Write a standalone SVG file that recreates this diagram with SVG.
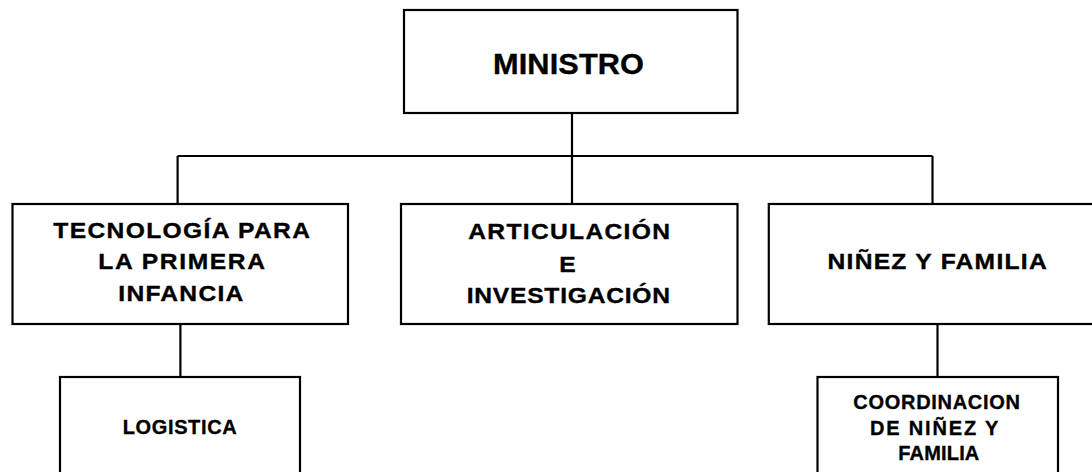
<svg xmlns="http://www.w3.org/2000/svg" width="1092" height="472" viewBox="0 0 1092 472">
<style>
.box{fill:#fff;stroke:#000;stroke-width:2.2}
.ln{stroke:#000;stroke-width:2.2;fill:none}
text{font-family:"Liberation Sans",Arial,sans-serif;font-weight:bold;fill:#000;stroke:#000;stroke-width:0.35}
.t1{font-size:29px}
.t2{font-size:22px}
.t3{font-size:20px}
</style>
<rect width="1092" height="472" fill="#fff"/>
<g id="connectors">
<line class="ln" x1="572" y1="113" x2="572" y2="204"/>
<line class="ln" x1="177.6" y1="156" x2="932.5" y2="156"/>
<line class="ln" x1="177.6" y1="156" x2="177.6" y2="204"/>
<line class="ln" x1="932.5" y1="156" x2="932.5" y2="204"/>
<line class="ln" x1="180.4" y1="324" x2="180.4" y2="377"/>
<line class="ln" x1="937.5" y1="324" x2="937.5" y2="377"/>
</g>
<g id="ministro">
<rect class="box" x="404" y="10" width="333.5" height="103"/>
<text class="t1" transform="matrix(1.06 0 0 1 493 73.5)" textLength="142.5" lengthAdjust="spacing">MINISTRO</text>
</g>
<g id="tecnologia">
<rect class="box" x="12.5" y="204" width="335.5" height="120"/>
<text class="t2" transform="matrix(1.12 0 0 1 53.3 237.7)" textLength="229.2" lengthAdjust="spacing">TECNOLOGÍA PARA</text>
<text class="t2" transform="matrix(1.12 0 0 1 98.3 269.3)" textLength="148.8" lengthAdjust="spacing">LA PRIMERA</text>
<text class="t2" transform="matrix(1.12 0 0 1 118.3 300.5)" textLength="111.6" lengthAdjust="spacing">INFANCIA</text>
</g>
<g id="articulacion">
<rect class="box" x="401" y="204" width="336.5" height="120"/>
<text class="t2" transform="matrix(1.12 0 0 1 468.3 239.3)" textLength="180.1" lengthAdjust="spacing">ARTICULACIÓN</text>
<text class="t2" transform="matrix(1.12 0 0 1 567.5 271.7)" text-anchor="middle">E</text>
<text class="t2" transform="matrix(1.12 0 0 1 466.7 302.7)" textLength="181.5" lengthAdjust="spacing">INVESTIGACIÓN</text>
</g>
<g id="ninez">
<rect class="box" x="768.8" y="204" width="330" height="120"/>
<text class="t2" transform="matrix(1.12 0 0 1 827.5 269)" textLength="195.7" lengthAdjust="spacing">NIÑEZ Y FAMILIA</text>
</g>
<g id="logistica">
<rect class="box" x="60" y="377" width="240" height="110"/>
<text class="t3" x="122.7" y="433.5" textLength="114" lengthAdjust="spacing">LOGISTICA</text>
</g>
<g id="coordinacion">
<rect class="box" x="817.5" y="377" width="240.5" height="110"/>
<text class="t3" x="853.3" y="409.3" textLength="166.7" lengthAdjust="spacing">COORDINACION</text>
<text class="t3" x="870" y="435" textLength="128.3" lengthAdjust="spacing">DE NIÑEZ Y</text>
<text class="t3" x="898.3" y="460" textLength="81" lengthAdjust="spacing">FAMILIA</text>
</g>
</svg>
